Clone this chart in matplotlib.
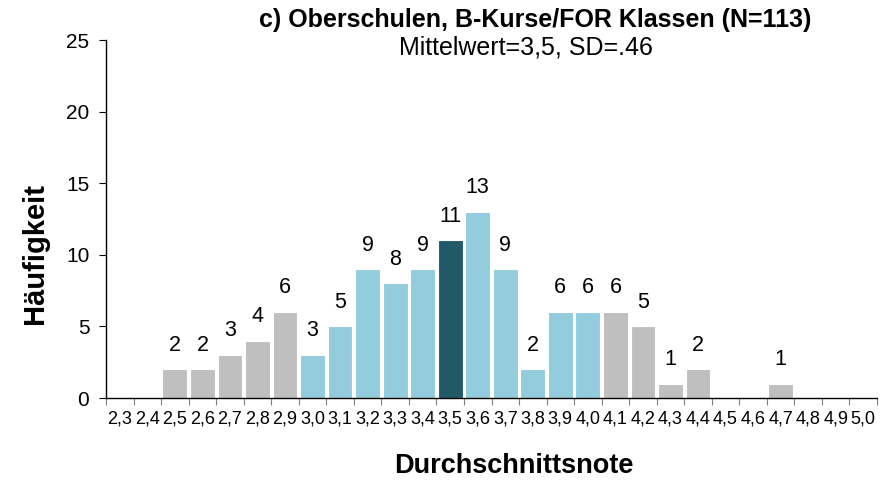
import matplotlib
matplotlib.use("Agg")
import matplotlib.pyplot as plt
import numpy as np

plt.rcParams['font.family'] = ['Liberation Sans', 'DejaVu Sans']

categories = ["2,3", "2,4", "2,5", "2,6", "2,7", "2,8", "2,9", "3,0", "3,1", "3,2",
              "3,3", "3,4", "3,5", "3,6", "3,7", "3,8", "3,9", "4,0", "4,1", "4,2",
              "4,3", "4,4", "4,5", "4,6", "4,7", "4,8", "4,9", "5,0"]
counts = [0, 0, 2, 2, 3, 4, 6, 3, 5, 9, 8, 9, 11, 13, 9, 2, 6, 6, 6, 5, 1, 2, 0, 0, 1, 0, 0, 0]
groups = ["out"] * 7 + ["in"] * 5 + ["mean"] + ["in"] * 5 + ["out"] * 10

palette = {"out": "#BFBFBF", "in": "#93CDDD", "mean": "#215968"}
colors = [palette[g] for g in groups]

W, H = 885, 483
fig = plt.figure(figsize=(W / 100, H / 100), dpi=100)
ax = fig.add_axes([106 / W, 1 - 398 / H, (877 - 106) / W, (398 - 40) / H])

x = np.arange(len(categories))
ax.bar(x, counts, width=0.9, color=colors, edgecolor="white", linewidth=0.8)

for xi, v in zip(x, counts):
    if v > 0:
        ax.text(xi, v + 0.95, str(v), ha="center", va="bottom", fontsize=15.5)

ax.set_xlim(-0.5, len(categories) - 0.5)
ax.set_ylim(0, 25)
ax.set_yticks([0, 5, 10, 15, 20, 25])
ax.tick_params(axis="y", labelsize=15, length=5, width=0.8, direction="out", pad=7)
ax.set_xticks(x)
ax.set_xticklabels(categories, fontsize=13)
ax.set_xticks(np.arange(-0.5, len(categories), 1.0), minor=True)
ax.tick_params(axis="x", which="major", length=0, pad=9)
ax.tick_params(axis="x", which="minor", length=5, width=0.8, color="#808080")

for s in ["top", "right"]:
    ax.spines[s].set_visible(False)
ax.spines["left"].set_linewidth(1.0)
ax.spines["bottom"].set_linewidth(1.0)

fig.text(35 / W, 1 - 253 / H, "Häufigkeit", rotation=90, ha="center", va="center",
         fontsize=21, fontweight="bold")
fig.text(514 / W, 1 - 466 / H, "Durchschnittsnote", ha="center", va="center",
         fontsize=19.5, fontweight="bold")

fig.text(535 / W, 1 - 20 / H, "c) Oberschulen, B-Kurse/FOR Klassen (N=113)", ha="center", va="center",
         fontsize=18, fontweight="bold")
fig.text(526 / W, 1 - 48 / H, "Mittelwert=3,5, SD=.46", ha="center", va="center", fontsize=18)

fig.savefig("out.png", dpi=100)
